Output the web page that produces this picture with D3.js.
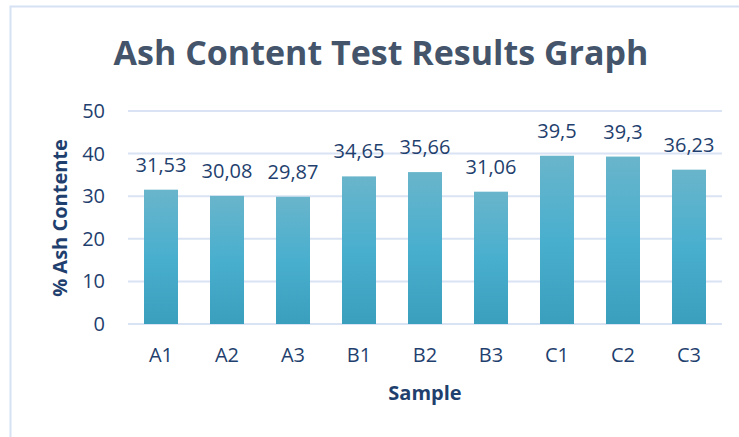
<!DOCTYPE html>
<html>
<head>
<meta charset="utf-8">
<script src="https://cdn.jsdelivr.net/npm/d3@7"></script>
<style>
  body { margin: 0; background: #fff; }
  text { font-family: "Open Sans", sans-serif; }
</style>
</head>
<body>
<div id="chart"></div>
<script>
// data
const samples = ["A1", "A2", "A3", "B1", "B2", "B3", "C1", "C2", "C3"];
const ash = [31.53, 30.08, 29.87, 34.65, 35.66, 31.06, 39.5, 39.3, 36.23];
const valueLabels = ["31,53", "30,08", "29,87", "34,65", "35,66", "31,06", "39,5", "39,3", "36,23"];
const yTicks = [0, 10, 20, 30, 40, 50];

const width = 739, height = 437;

const svg = d3.select("#chart").append("svg")
    .attr("width", width)
    .attr("height", height);

// chart border
svg.append("rect")
    .attr("x", 10.5).attr("y", 6.5)
    .attr("width", 760).attr("height", 460)
    .attr("fill", "#fff")
    .attr("stroke", "#d6e2f4")
    .attr("stroke-width", 2);

const defs = svg.append("defs");
const grad = defs.append("linearGradient")
    .attr("id", "barGrad")
    .attr("x1", 0).attr("y1", 0).attr("x2", 0).attr("y2", 1);
grad.append("stop").attr("offset", "0%").attr("stop-color", "#69b5cb");
grad.append("stop").attr("offset", "50%").attr("stop-color", "#49afce");
grad.append("stop").attr("offset", "100%").attr("stop-color", "#3a9fbd");

let x = d3.scaleBand().domain(samples)
    .range([128, 722])
    .paddingInner(0.485)
    .paddingOuter(0.2425);
let y = d3.scaleLinear().domain([0, 50])
    .range([324, 111]);

// gridlines
svg.append("g").selectAll("line").data(yTicks).enter()
    .append("line")
        .attr("x1", 128).attr("x2", 722)
        .attr("y1", d => y(d)).attr("y2", d => y(d))
        .attr("stroke", "#d9e3f3")
        .attr("stroke-width", 2);

// y axis labels
let leftAxis = d3.axisLeft(y).tickValues(yTicks).tickSize(0).tickPadding(23);
let gy = svg.append("g").attr("transform", "translate(128,0)").call(leftAxis);
gy.select(".domain").remove();
gy.selectAll("text")
    .attr("font-size", 20)
    .attr("fill", "#1f3f6e")
    .style("font-family", "'Open Sans', sans-serif");

// x axis labels
let bottomAxis = d3.axisBottom(x).tickSize(0).tickPadding(24);
let gx = svg.append("g").attr("transform", "translate(0,324)").call(bottomAxis);
gx.select(".domain").remove();
gx.selectAll("text")
    .attr("font-size", 20)
    .attr("fill", "#1f3f6e")
    .style("font-family", "'Open Sans', sans-serif");

// bars
svg.append("g").selectAll("rect").data(ash).enter()
    .append("rect")
        .attr("x", (d, i) => x(samples[i]))
        .attr("y", d => y(d))
        .attr("width", x.bandwidth())
        .attr("height", d => y(0) - y(d))
        .attr("fill", "url(#barGrad)");

// value labels
svg.append("g").selectAll("text").data(ash).enter()
    .append("text")
        .attr("x", (d, i) => x(samples[i]) + x.bandwidth() / 2)
        .attr("y", d => y(d) - 18)
        .attr("text-anchor", "middle")
        .attr("font-size", 20)
        .attr("fill", "#1f3f6e")
        .text((d, i) => valueLabels[i]);

// title
svg.append("text")
    .attr("x", 381).attr("y", 65)
    .attr("text-anchor", "middle")
    .attr("font-size", 34)
    .attr("font-weight", "bold")
    .attr("fill", "#44546a")
    .text("Ash Content Test Results Graph");

// axis titles
svg.append("text")
    .attr("x", 425).attr("y", 400)
    .attr("text-anchor", "middle")
    .attr("font-size", 20)
    .attr("font-weight", "bold")
    .attr("fill", "#1f3f6e")
    .text("Sample");

svg.append("text")
    .attr("transform", "translate(67,218) rotate(-90)")
    .attr("text-anchor", "middle")
    .attr("font-size", 20)
    .attr("font-weight", "bold")
    .attr("fill", "#1f3f6e")
    .text("% Ash Contente");
</script>
</body>
</html>
